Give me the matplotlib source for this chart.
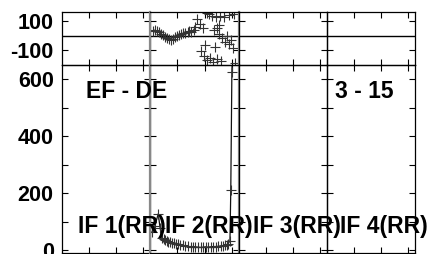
import matplotlib
matplotlib.use('Agg')
import matplotlib.pyplot as plt

'''
EF - DE 两段图: 上面是差值, 下面是主曲线, 分成 4 个 IF 区段
'''

plt.rcParams['font.family'] = ['Liberation Sans', 'DejaVu Sans']
plt.rcParams['font.weight'] = 'bold'

# 区段名称
panel_names = ['IF 1(RR)', 'IF 2(RR)', 'IF 3(RR)', 'IF 4(RR)']

# 上图数据 (只在第 2 区段), 连续部分
top_x = [0.11, 0.18, 0.26, 0.33, 0.41, 0.48, 0.55, 0.63, 0.70, 0.77, 0.85,
         0.92, 1.00, 1.07, 1.14, 1.22, 1.29, 1.37, 1.44, 1.51, 1.59, 1.66]
top_y = [34, 41, 34, 28, 14, 7, -7, -14, -21, -28, -21,
         -7, 0, 7, 14, 21, 21, 28, 34, 28, 41, 62]
# 上图数据, 散点部分
scat_x = [1.73, 1.81, 1.92, 2.07, 2.14, 2.25, 2.40, 2.55, 2.69, 2.88, 3.06,
          1.85, 1.96, 2.07, 2.18, 2.29, 2.44, 2.58, 2.00, 2.36, 2.51, 2.62,
          2.73, 2.80, 2.88, 2.95, 3.03, 3.10, 2.32, 2.44, 2.51]
scat_y = [117, 83, 55, 159, 152, 138, 131, 138, 131, 145, 152,
          -103, -138, -166, -152, -179, -159, -172, -62, -76, 14, -14,
          -41, 0, -55, -28, -83, -186, 41, 55, 76]

# 下图数据
bot_x = [0.07, 0.18, 0.30, 0.37, 0.44, 0.50, 0.55, 0.61, 0.66, 0.74, 0.81,
         0.89, 0.96, 1.04, 1.11, 1.20, 1.29, 1.38, 1.48, 1.57, 1.66, 1.75,
         1.85, 1.94, 2.03, 2.12, 2.21, 2.30, 2.40, 2.49, 2.58, 2.66, 2.73,
         2.80, 2.84, 2.92, 2.95, 2.99, 3.03]
bot_y = [63, 85, 127, 77, 42, 38, 35, 31, 28, 27, 25,
         23, 21, 20, 18, 16, 14, 13, 11, 12, 11, 10,
         9, 10, 11, 10, 11, 12, 12, 13, 14, 15, 18,
         19, 21, 32, 211, 627, 740]

# y 轴刻度
top_ticks = [-100, 100]
top_labels = ['-100', '100']
bot_ticks = [0, 100, 200, 300, 400, 500, 600]
bot_labels = ['0', '', '200', '', '400', '', '600']

W, H = 435, 254
fig = plt.figure(figsize=(W / 100, H / 100), dpi=100)

edges = [62, 150, 239, 327, 415]
top_rows = (12, 65)
bot_rows = (65, 253)


def make_ax(x0, x1, y0, y1):
    ax = fig.add_axes([x0 / W, 1 - y1 / H, (x1 - x0) / W, (y1 - y0) / H])
    ax.patch.set_alpha(0)
    return ax


top_axes = []
bot_axes = []
for k in range(4):
    at = make_ax(edges[k], edges[k + 1], *top_rows)
    ab = make_ax(edges[k], edges[k + 1], *bot_rows)
    for ax in (at, ab):
        ax.set_xlim(0, 3.25)
        ax.set_xticks([1, 2, 3])
        ax.set_xticklabels([])
        ax.tick_params(direction='in', top=True, right=True, length=4.5,
                       width=0.8, labelsize=15.5, pad=6)
        for s in ax.spines.values():
            s.set_linewidth(0.9)
    at.set_ylim(-200, 165)
    at.set_yticks(top_ticks)
    ab.set_ylim(-10.6, 651)
    ab.set_yticks(bot_ticks)
    if k == 0:
        at.set_yticklabels(top_labels)
        ab.set_yticklabels(bot_labels)
    else:
        at.set_yticklabels([])
        ab.set_yticklabels([])
    at.axhline(0, color='black', lw=1)
    top_axes.append(at)
    bot_axes.append(ab)

# 灰色分隔线 (第 2 区段两边)
for ax in (top_axes[1], bot_axes[1]):
    ax.spines['left'].set_color('#888888')
    ax.spines['left'].set_linewidth(1.6)
    ax.spines['right'].set_color('#888888')
    ax.spines['right'].set_linewidth(1.6)

at = top_axes[1]
at.plot(top_x, top_y, color='#222222', lw=0.8, marker='+', ms=7, mew=0.8,
        mec='#333333')
at.plot(scat_x, scat_y, ls='none', marker='+', ms=7, mew=0.8, mec='#333333')

ab = bot_axes[1]
ab.plot(bot_x, bot_y, color='#111111', lw=0.9, marker='+', ms=7, mew=0.8,
        mec='#333333')

font1 = {'family': ['Liberation Sans', 'DejaVu Sans'], 'weight': 'bold', 'size': 16.5}

# 标注文字, 用像素位置放在整张图上, 保证在所有子图之上
fig.text(86 / W, 1 - 91 / H, 'EF - DE', va='center', ha='left', fontdict=font1)
fig.text(335 / W, 1 - 91 / H, '3 - 15', va='center', ha='left', fontdict=font1)

name_x = [78, 165, 253, 340]
for k in range(4):
    fig.text(name_x[k] / W, 1 - 227 / H, panel_names[k], va='center', ha='left',
             fontdict=font1, zorder=10)

plt.savefig('out.png', dpi=100)
plt.close()
